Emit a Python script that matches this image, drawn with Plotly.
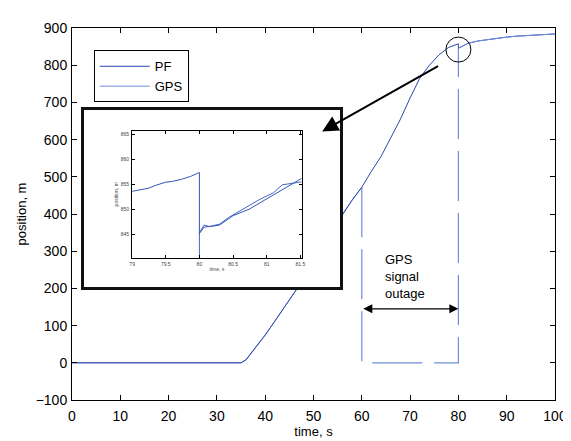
import plotly.graph_objects as go

# ---------------- data ----------------
# main plot: particle-filter (PF) estimate
t_pf = [0, 5, 10, 14, 15, 16, 18, 20, 25, 30, 35, 36, 38, 40, 42, 44, 46, 48, 50, 52,
        54, 56, 58, 60, 62, 64, 66, 68, 70, 72, 74, 76, 78, 79, 80, 80, 81, 82, 84, 86,
        88, 90, 92, 94, 96, 98, 100]
pf = [0, 0, 0, 0, 2, 0, 1, 0, 0, 0, 0, 8, 40, 75, 112, 150, 188, 225, 262, 302,
      348, 398, 437, 472, 515, 555, 605, 655, 712, 765, 800, 828, 848, 853.5, 857.5, 845.5, 852, 859, 865, 869,
      872.5, 875.5, 878, 880, 881.5, 883, 884]

# main plot: GPS before outage
t_gps_a = [0, 5, 10, 15, 20, 25, 30, 35, 36, 38, 40, 42, 44, 46, 48, 50, 52, 54, 56, 58, 60]
gps_a = [0, 0, 0, 0, 0, 0, 0, 0, 7, 39, 74, 112, 151, 189, 226, 263, 303, 349, 399, 438, 472]
# GPS during outage (reported zero)
t_gps_out = [60, 60, 80, 80]
gps_out = [472, 0, 0, 845.5]
# GPS after outage
t_gps_b = [80, 81, 82, 84, 86, 88, 90, 92, 94, 96, 98, 100]
gps_b = [845.5, 852.5, 858.5, 865, 869, 872.5, 875.5, 878, 880, 881.5, 883, 884]

# inset (zoom around t = 80 s)
ti_pf = [79.0, 79.1, 79.24, 79.35, 79.49, 79.6, 79.73, 79.87, 79.97, 80.0, 80.0, 80.07,
         80.2, 80.3, 80.5, 80.74, 80.99, 81.23, 81.52]
vi_pf = [853.6, 853.9, 854.2, 854.8, 855.4, 855.6, 856.0, 856.6, 857.3, 857.4, 845.1, 846.4,
         846.6, 846.8, 848.7, 850.0, 852.0, 853.9, 856.2]
ti_gps = [79.0, 80.0, 80.0, 80.07, 80.15, 80.3, 80.43, 80.65, 80.9, 81.1, 81.23, 81.52]
vi_gps = [0, 0, 845.3, 846.8, 846.5, 847.0, 848.3, 850.0, 852.0, 853.3, 854.9, 855.5]

x_ticks = list(range(0, 101, 10))
y_ticks = list(range(-100, 901, 100))
xi_ticks = [79, 79.5, 80, 80.5, 81, 81.5]
yi_ticks = [845, 850, 855, 860, 865]

PF_COLOR = "#2a47ad"
GPS_COLOR = "#6f8ddb"
FONT = "Liberation Sans, Arial, sans-serif"

fig = go.Figure()

# main traces
fig.add_trace(go.Scatter(x=t_gps_a, y=gps_a, mode="lines", name="GPS",
                         line=dict(color=GPS_COLOR, width=1), showlegend=False,
                         legendgroup="gps"))
fig.add_trace(go.Scatter(x=t_gps_out, y=gps_out, mode="lines", name="GPS",
                         line=dict(color=GPS_COLOR, width=1.2, dash="50px,12px"),
                         showlegend=False, legendgroup="gps"))
fig.add_trace(go.Scatter(x=t_pf, y=pf, mode="lines", name="PF",
                         line=dict(color=PF_COLOR, width=1)))
fig.add_trace(go.Scatter(x=t_gps_b, y=gps_b, mode="lines", name="GPS",
                         line=dict(color=GPS_COLOR, width=1), legendgroup="gps"))

# outer inset frame (subplot 2, white background hides main curve)
fig.add_trace(go.Scatter(x=[None], y=[None], xaxis="x2", yaxis="y2",
                         showlegend=False, hoverinfo="skip"))

# inset traces (subplot 3)
fig.add_trace(go.Scatter(x=ti_gps, y=vi_gps, xaxis="x3", yaxis="y3", mode="lines",
                         line=dict(color="#4466c4", width=1), showlegend=False))
fig.add_trace(go.Scatter(x=ti_pf, y=vi_pf, xaxis="x3", yaxis="y3", mode="lines",
                         line=dict(color="#3355bb", width=1), showlegend=False))

axis_common = dict(showline=True, linecolor="black", linewidth=1, mirror="ticks",
                   ticks="inside", ticklen=5, tickcolor="black", showgrid=False,
                   zeroline=False)

fig.update_layout(
    width=571, height=441,
    margin=dict(l=64, r=17, t=18, b=35),
    paper_bgcolor="white", plot_bgcolor="white",
    font=dict(family=FONT, color="black", size=13),
    xaxis=dict(range=[0, 100], tickvals=x_ticks, domain=[0, 1],
               tickfont=dict(size=14), ticklabelstandoff=3,
               title=dict(text="time, s", font=dict(size=13), standoff=4),
               **axis_common),
    yaxis=dict(range=[-100, 900], tickvals=y_ticks, domain=[0, 1],
               tickfont=dict(size=14), ticklabelstandoff=1,
               title=dict(text="position, m", font=dict(size=13), standoff=6),
               **axis_common),
    xaxis2=dict(domain=[0.0245, 0.555], anchor="y2", range=[0, 1],
                showline=True, linecolor="#111", linewidth=2.5, mirror=True,
                ticks="", showticklabels=False, showgrid=False, zeroline=False),
    yaxis2=dict(domain=[0.304, 0.779], anchor="x2", range=[0, 1],
                showline=True, linecolor="#111", linewidth=2.5, mirror=True,
                ticks="", showticklabels=False, showgrid=False, zeroline=False),
    xaxis3=dict(domain=[0.1245, 0.4755], anchor="y3", range=[79, 81.52],
                tickvals=xi_ticks, ticktext=["79", "79.5", "80", "80.5", "81", "81.5"],
                showline=True, linecolor="black", linewidth=1, mirror="ticks",
                ticks="inside", ticklen=3, tickcolor="black",
                tickfont=dict(size=5, color="#444"), ticklabelstandoff=1,
                title=dict(text="time, s", font=dict(size=5, color="#444"), standoff=1),
                showgrid=False, zeroline=False),
    yaxis3=dict(domain=[0.382, 0.724], anchor="x3", range=[840.2, 865.8],
                tickvals=yi_ticks,
                showline=True, linecolor="black", linewidth=1, mirror="ticks",
                ticks="inside", ticklen=3, tickcolor="black",
                tickfont=dict(size=5, color="#444"), ticklabelstandoff=1,
                title=dict(text="position, m", font=dict(size=5, color="#444"), standoff=2),
                showgrid=False, zeroline=False),
    legend=dict(x=0.045, y=0.94, xanchor="left", yanchor="top",
                bgcolor="white", bordercolor="black", borderwidth=1,
                font=dict(size=13), tracegroupgap=0, itemwidth=50,
                traceorder="normal"),
    showlegend=True,
)

# circle around the correction point
fig.add_shape(type="circle", xref="x", yref="y", xsizemode="pixel", ysizemode="pixel",
              xanchor=80, yanchor=842, x0=-12.5, x1=12.5, y0=-12.5, y1=12.5,
              line=dict(color="black", width=1))

# arrow pointing into the inset
fig.add_annotation(x=51.8, y=622, ax=76.1, ay=800, xref="x", yref="y",
                   axref="x", ayref="y", text="", showarrow=True,
                   arrowhead=2, arrowsize=1.6, arrowwidth=2, arrowcolor="black",
                   standoff=0)

# GPS outage double arrow and text
fig.add_annotation(x=80, y=145, ax=60, ay=145, xref="x", yref="y",
                   axref="x", ayref="y", text="", showarrow=True,
                   arrowhead=2, arrowside="end+start", arrowsize=1.5,
                   arrowwidth=1.2, arrowcolor="black", standoff=0, startstandoff=0)
fig.add_annotation(x=64.3, y=232, xref="x", yref="y", xanchor="left", yanchor="middle",
                   align="left", text="GPS<br>signal<br>outage", showarrow=False,
                   font=dict(size=13))

fig.write_html("out.html")
